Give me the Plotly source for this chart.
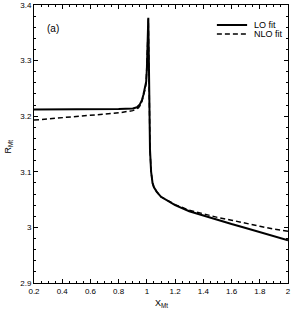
import plotly.graph_objects as go

x_lo = [0.2, 0.5, 0.8, 0.9, 0.93, 0.95, 0.965, 0.975, 0.985, 0.995, 1.0, 1.005, 1.01,
        1.014, 1.017, 1.022, 1.03, 1.04, 1.05, 1.07, 1.1, 1.2, 1.3, 1.4, 1.5, 1.6, 1.7, 1.8, 1.9, 2.0]
y_lo = [3.212, 3.212, 3.213, 3.214, 3.216, 3.221, 3.229, 3.238, 3.248, 3.262, 3.285, 3.33, 3.377,
        3.30, 3.20, 3.14, 3.10, 3.08, 3.072, 3.064, 3.055, 3.040, 3.029, 3.021, 3.013, 3.006, 2.999, 2.992, 2.985, 2.977]

x_nlo = [0.2, 0.3, 0.4, 0.5, 0.6, 0.7, 0.8, 0.9, 0.94, 0.96, 0.975, 0.985, 0.995, 1.0, 1.005, 1.01,
         1.014, 1.017, 1.022, 1.03, 1.04, 1.05, 1.07, 1.1, 1.2, 1.3, 1.4, 1.5, 1.6, 1.7, 1.8, 1.9, 2.0]
y_nlo = [3.193, 3.195, 3.197, 3.199, 3.201, 3.203, 3.206, 3.210, 3.215, 3.222, 3.235, 3.246, 3.260, 3.283, 3.33, 3.375,
         3.30, 3.20, 3.14, 3.10, 3.08, 3.072, 3.064, 3.055, 3.041, 3.031, 3.024, 3.018, 3.013, 3.007, 3.002, 2.997, 2.993]

legend_labels = ["LO fit", "NLO fit"]
panel_label = "(a)"

FONT = "Liberation Sans, Arial, Helvetica, sans-serif"

fig = go.Figure()
fig.add_trace(go.Scatter(x=x_nlo, y=y_nlo, mode="lines", name=legend_labels[1],
                         line=dict(color="black", width=1.5, dash="5px,3px")))
fig.add_trace(go.Scatter(x=x_lo, y=y_lo, mode="lines", name=legend_labels[0],
                         line=dict(color="black", width=2)))

axis_common = dict(showgrid=False, zeroline=False, showline=True, linecolor="black", linewidth=1,
                   mirror="allticks", ticks="inside", ticklen=4, tickcolor="black", tickwidth=1,
                   tickfont=dict(family=FONT, size=8, color="black"))

fig.update_xaxes(range=[0.2, 2.0], tickmode="array",
                 tickvals=[0.2, 0.4, 0.6, 0.8, 1.0, 1.2, 1.4, 1.6, 1.8, 2.0],
                 ticktext=["0.2", "0.4", "0.6", "0.8", "1", "1.2", "1.4", "1.6", "1.8", "2"],
                 minor=dict(dtick=0.05, tick0=0.2, ticks="inside", ticklen=2, tickcolor="black"),
                 **axis_common)
fig.update_yaxes(range=[2.9, 3.4], tickmode="array",
                 tickvals=[2.9, 3.0, 3.1, 3.2, 3.3, 3.4],
                 ticktext=["2.9", "3", "3.1", "3.2", "3.3", "3.4"],
                 minor=dict(dtick=0.02, tick0=2.9, ticks="inside", ticklen=2, tickcolor="black"),
                 **axis_common)

# manual legend
shapes = []
annotations = []
for i, (lab, dash, w) in enumerate([(legend_labels[0], "solid", 2), (legend_labels[1], "5px,3px", 1.5)]):
    yy = 0.928 - i * 0.032
    shapes.append(dict(type="line", xref="paper", yref="paper", x0=0.720, x1=0.839, y0=yy, y1=yy,
                       line=dict(color="black", width=w, dash=dash)))
    annotations.append(dict(xref="paper", yref="paper", x=0.858, y=yy, text=lab, showarrow=False,
                            xanchor="left", yanchor="middle", font=dict(family=FONT, size=9, color="black")))

annotations.append(dict(xref="paper", yref="paper", x=0.075, y=0.914, text=panel_label, showarrow=False,
                        xanchor="center", yanchor="middle", font=dict(family=FONT, size=10, color="black")))
annotations.append(dict(xref="paper", yref="paper", x=0.5, y=-0.075, text="X<sub>Mt</sub>", showarrow=False,
                        xanchor="center", yanchor="middle", font=dict(family=FONT, size=9, color="black")))
annotations.append(dict(xref="paper", yref="paper", x=-0.1, y=0.49, text="R<sub>Mt</sub>", showarrow=False,
                        textangle=-90, xanchor="center", yanchor="middle",
                        font=dict(family=FONT, size=9, color="black")))

fig.update_layout(width=298, height=313, margin=dict(l=34, r=10, t=5, b=30, autoexpand=False),
                  paper_bgcolor="white", plot_bgcolor="white", showlegend=False,
                  shapes=shapes, annotations=annotations)

fig.write_html("out.html", config={"displayModeBar": False, "staticPlot": True},
               post_script="document.body.style.margin='0';document.body.style.padding='0';"
                           "document.documentElement.style.overflow='hidden';")
